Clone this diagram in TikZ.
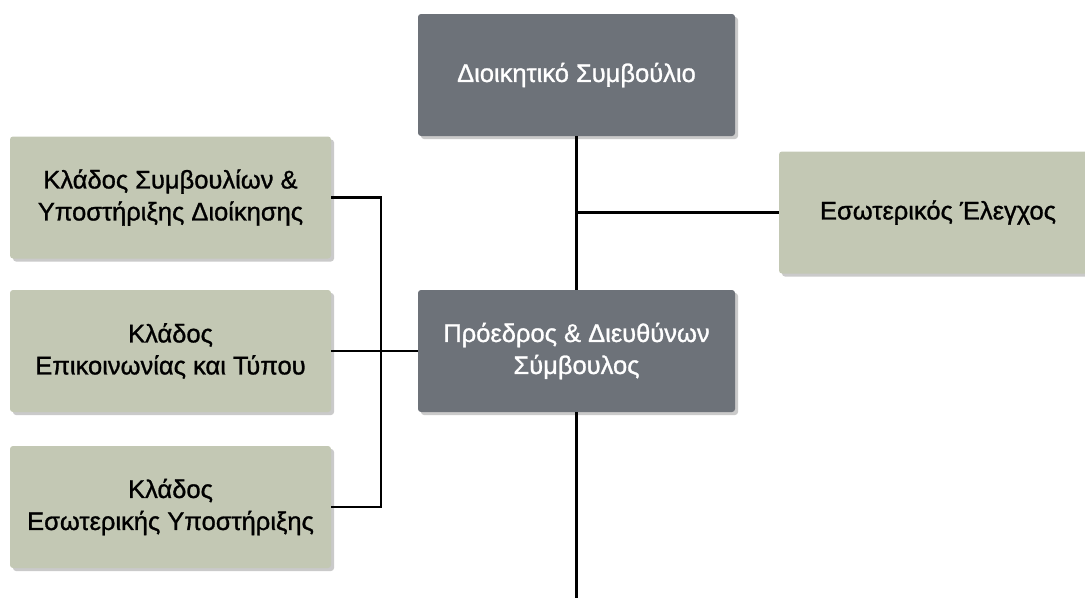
\documentclass[tikz,border=0pt]{standalone}
\usepackage{fontspec}
\setmainfont{Liberation Sans}
\newfontfamily\boxfont[FakeBold=1.1]{Liberation Sans}
\usetikzlibrary{shadows,calc}
\definecolor{darkbox}{HTML}{6D7279}
\definecolor{greenbox}{HTML}{C3C8B4}
\tikzset{
  x=1pt, y=1pt,
  boxbase/.style={rounded corners=3pt, align=center, inner sep=4pt,
    font=\boxfont\fontsize{25.5}{32}\selectfont,
    drop shadow={shadow xshift=3pt, shadow yshift=-3pt, fill=black!35, opacity=0.6}},
  darkbox/.style={boxbase, fill=darkbox, text=white, minimum width=317pt, minimum height=122pt},
  greenbox/.style={boxbase, fill=greenbox, text=black, minimum width=321pt, minimum height=122pt},
  link/.style={draw=black, line width=2.2pt}
}
\begin{document}
\begin{tikzpicture}
\useasboundingbox (0,0) rectangle (1085,-598);
\clip (0,0) rectangle (1085,-598);
% management boxes
\node[darkbox] (board) at (576.5,-75) {Διοικητικό Συμβούλιο};
\node[darkbox] (ceo) at (576.5,-351) {Πρόεδρος \& Διευθύνων\\Σύμβουλος};
% branches
\node[greenbox] (b1) at (170.5,-197.5) {Κλάδος Συμβουλίων \&\\Υποστήριξης Διοίκησης};
\node[greenbox] (b2) at (170.5,-351) {Κλάδος\\Επικοινωνίας και Τύπου};
\node[greenbox] (b3) at (170.5,-507) {Κλάδος\\Εσωτερικής Υποστήριξης};
\node[greenbox, minimum width=318pt] (audit) at (938,-212.5) {Εσωτερικός Έλεγχος};
\coordinate (bottom) at (576.5,-598);
% connectors
\draw[link] (board.south) -- (ceo.north);
\draw[link] (ceo.south) -- (bottom);
\draw[link] (audit.west) -- (audit.west -| board.south);
\draw[link] (ceo.west) -- (b2.east);
\draw[link] (b1.east) -- ++(50,0) |- (b3.east);
\end{tikzpicture}
\end{document}
